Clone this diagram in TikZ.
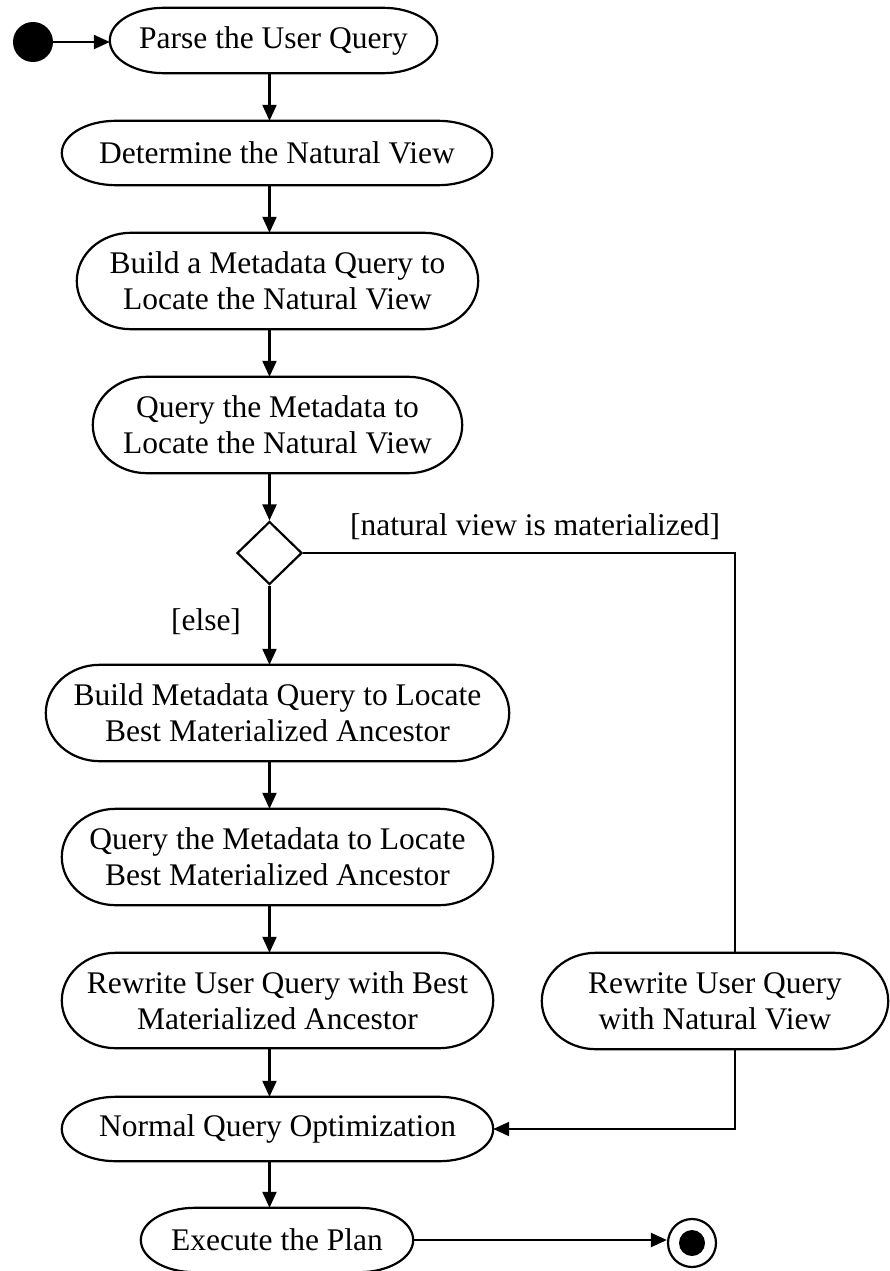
\documentclass[tikz,border=0pt]{standalone}
\usepackage{fontspec}
\setmainfont{Liberation Serif}
\usetikzlibrary{arrows.meta,shapes.geometric,calc}
\newcommand\rxx{54pt}
\newcommand\pillout[1]{%
  \draw[lw] let \p1=(#1.north west), \p2=(#1.south east), \n1={(\y1-\y2)/2} in
    (\x1+\rxx,\y1) -- (\x2-\rxx,\y1)
    arc[start angle=90,end angle=-90,x radius=\rxx,y radius=\n1]
    -- (\x1+\rxx,\y2)
    arc[start angle=270,end angle=90,x radius=\rxx,y radius=\n1] -- cycle;}
\tikzset{
  lw/.style={line width=2.2pt},
  act/.style={rectangle,inner sep=0pt,align=center,font=\fontsize{31.5}{36}\selectfont},
  lbl/.style={inner sep=0pt,font=\fontsize{31.5}{36}\selectfont},
  flow/.style={lw,-{Triangle[length=16pt,width=14pt]}},
  plain/.style={lw},
}
\begin{document}
\begin{tikzpicture}[x=1pt,y=1pt]
\useasboundingbox (0,0) rectangle (889,-1271);
% nodes
\node[circle,fill=black,minimum size=40pt,inner sep=0pt] (start) at (33,-42) {};
\node[act,minimum width=327pt,minimum height=65pt] (n1) at (273.5,-40.5) {Parse the User Query};
\node[act,minimum width=430pt,minimum height=64pt] (n2) at (277,-153) {Determine the Natural View};
\node[act,minimum width=401pt,minimum height=96pt] (n3) at (277.5,-281) {Build a Metadata Query to\\Locate the Natural View};
\node[act,minimum width=369pt,minimum height=96pt] (n4) at (277.5,-425) {Query the Metadata to\\Locate the Natural View};
\node[diamond,draw,lw,minimum width=65pt,minimum height=63pt,inner sep=0pt] (dec) at (269.5,-553) {};
\node[act,minimum width=463pt,minimum height=96pt] (n5) at (277.5,-713) {Build Metadata Query to Locate\\Best Materialized Ancestor};
\node[act,minimum width=431pt,minimum height=96pt] (n6) at (277.5,-857) {Query the Metadata to Locate\\Best Materialized Ancestor};
\node[act,minimum width=431pt,minimum height=95pt] (n7) at (277.5,-1000.5) {Rewrite User Query with Best\\Materialized Ancestor};
\node[act,minimum width=346pt,minimum height=96pt] (n8) at (715,-1001) {Rewrite User Query\\with Natural View};
\node[act,minimum width=431pt,minimum height=64pt] (n9) at (277.5,-1129) {Normal Query Optimization};
\node[act,minimum width=272pt,minimum height=64pt] (n10) at (277,-1240) {Execute the Plan};
\node[circle,draw,lw,minimum size=48pt,inner sep=0pt] (end) at (692,-1243) {};
\node[circle,fill=black,minimum size=26pt,inner sep=0pt] (endin) at (end.center) {};
\node[lbl] (lmat) at (535,-527) {[natural view is materialized]};
\node[lbl] (lelse) at (206,-622) {[else]};
\coordinate (turn) at (735,-553);
% outlines
\foreach \nn in {n1,n2,n3,n4,n5,n6,n7,n8,n9,n10} {\pillout{\nn}}
% connectors
\draw[flow] (start.east) -- (start.east -| n1.west);
\draw[flow] (n1.south -| dec) -- (n2.north -| dec);
\draw[flow] (n2.south -| dec) -- (n3.north -| dec);
\draw[flow] (n3.south -| dec) -- (n4.north -| dec);
\draw[flow] (n4.south -| dec) -- (dec.north);
\draw[flow] (dec.south) -- (n5.north -| dec);
\draw[flow] (n5.south -| dec) -- (n6.north -| dec);
\draw[flow] (n6.south -| dec) -- (n7.north -| dec);
\draw[flow] (n7.south -| dec) -- (n9.north -| dec);
\draw[flow] (n9.south -| dec) -- (n10.north -| dec);
\draw[plain] (dec.east) -- (turn) -- (turn |- n8.north);
\draw[flow] (turn |- n8.south) -- (turn |- n9.east) -- (n9.east);
\draw[flow] (n10.east) -- (n10.east -| end.west);
\end{tikzpicture}
\end{document}
